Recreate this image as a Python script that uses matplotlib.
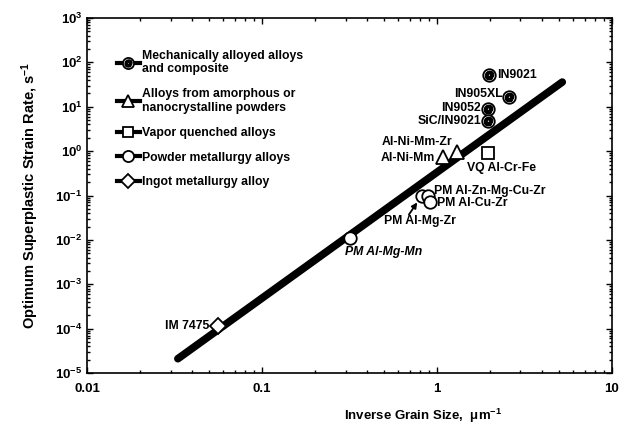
import numpy as np
import matplotlib as mpl
import matplotlib.pyplot as plt
from matplotlib.lines import Line2D
from matplotlib.legend_handler import HandlerTuple

mpl.rcParams['font.family'] = ['Liberation Sans', 'DejaVu Sans']
mpl.rcParams['font.weight'] = 'bold'
mpl.rcParams['mathtext.default'] = 'regular'

# fitted trend line (two end points)
line_x = [0.033, 5.2]
line_y = [2.1e-5, 36]

# mechanically alloyed alloys and composite
ma_names = ['IN9021', 'IN905XL', 'IN9052', 'SiC/IN9021']
ma_x = [1.98, 2.58, 1.96, 1.96]
ma_y = [52, 17, 8.8, 4.7]

# alloys from amorphous / nanocrystalline powders
am_names = ['Al-Ni-Mm', 'Al-Ni-Mm-Zr']
am_x = [1.08, 1.30]
am_y = [0.74, 0.95]

# vapor quenched
vq_names = ['VQ Al-Cr-Fe']
vq_x = [1.96]
vq_y = [0.92]

# powder metallurgy
pm_names = ['PM Al-Mg-Zr', 'PM Al-Zn-Mg-Cu-Zr', 'PM Al-Cu-Zr', 'PM Al-Mg-Mn']
pm_x = [0.82, 0.89, 0.91, 0.32]
pm_y = [0.10, 0.10, 0.071, 0.011]

# ingot metallurgy
im_names = ['IM 7475']
im_x = [0.056]
im_y = [1.15e-4]

legend_labels = ['Mechanically alloyed alloys\nand composite',
                 'Alloys from amorphous or\nnanocrystalline powders',
                 'Vapor quenched alloys',
                 'Powder metallurgy alloys',
                 'Ingot metallurgy alloy']

fig = plt.figure(figsize=(6.27, 4.29), dpi=100)
ax = fig.add_axes([0.139, 0.1305, 0.837, 0.8275])

ax.plot(line_x, line_y, color='black', lw=5.5, solid_capstyle='round', zorder=2)

mk = dict(linestyle='none', mfc='white', mec='black', mew=1.3, zorder=3)
ax.plot(ma_x, ma_y, marker='o', ms=9, **mk)
ax.plot(ma_x, ma_y, marker='$@$', ms=6, linestyle='none', color='black', zorder=4)
ax.plot(am_x, am_y, marker='^', ms=10, **mk)
ax.plot(vq_x, vq_y, marker='s', ms=8, **mk)
ax.plot(pm_x, pm_y, marker='o', ms=9, **mk)
ax.plot(im_x, im_y, marker='D', ms=8, **mk)

fs = 8.8
txt = dict(textcoords='offset pixels', fontsize=fs, va='center', fontweight='bold')
# (offset x, offset y, ha)
ma_off = [(8, 0, 'left'), (-6, 3, 'right'), (-7, 1, 'right'), (-7, 0, 'right')]
for n, x, y, o in zip(ma_names, ma_x, ma_y, ma_off):
    ax.annotate(n, (x, y), xytext=(o[0], o[1]), ha=o[2], **txt)
am_off = [(-8, -1, 'right'), (-5, 10, 'right')]
for n, x, y, o in zip(am_names, am_x, am_y, am_off):
    ax.annotate(n, (x, y), xytext=(o[0], o[1]), ha=o[2], **txt)
ax.annotate(vq_names[0], (vq_x[0], vq_y[0]), xytext=(-21, -15), ha='left', **txt)
ax.annotate(pm_names[0], (pm_x[0], pm_y[0]), xytext=(-38, -25), ha='left', **txt)
ax.annotate('', (pm_x[0], pm_y[0]), xytext=(-13, -19), textcoords='offset pixels',
            arrowprops=dict(arrowstyle='-|>', color='black', lw=1.3,
                            shrinkA=0, shrinkB=6, mutation_scale=8))
ax.annotate(pm_names[1], (pm_x[1], pm_y[1]), xytext=(6, 5), ha='left', **txt)
ax.annotate(pm_names[2], (pm_x[2], pm_y[2]), xytext=(7, -1), ha='left', **txt)
ax.annotate(pm_names[3], (pm_x[3], pm_y[3]), xytext=(-5, -14), ha='left',
            style='italic', **txt)
ax.annotate(im_names[0], (im_x[0], im_y[0]), xytext=(-9, 0), ha='right', **txt)

ax.set_xscale('log')
ax.set_yscale('log')
ax.set_xlim(0.01, 10)
ax.set_ylim(1e-5, 1e3)
ax.set_xticks([0.01, 0.1, 1, 10])
ax.set_xticklabels(['0.01', '0.1', '1', '10'])
ax.set_yticks([10.0 ** k for k in range(-5, 4)])
ax.set_yticklabels(['$10^{%d}$' % k for k in range(-5, 4)])
ax.tick_params(which='both', direction='in', top=True, right=True,
               labelsize=9.5, width=1)
ax.tick_params(axis='x', pad=7)
ax.tick_params(which='major', length=4)
ax.tick_params(which='minor', length=2)
for s in ax.spines.values():
    s.set_linewidth(1.2)

ax.set_xlabel('Inverse Grain Size,  $\\mu$m$^{-1}$', fontsize=9.5, fontweight='bold')
ax.xaxis.set_label_coords(0.64, -0.095)
ax.set_ylabel('Optimum Superplastic Strain Rate, s$^{-1}$', fontsize=10.5,
              fontweight='bold')
ax.yaxis.set_label_coords(-0.088, 0.5)

# legend
hk = dict(color='black', lw=3, mfc='white', mec='black', mew=1.3)
h_ma = (Line2D([], [], marker='o', ms=8, **hk),
        Line2D([], [], marker='$@$', ms=5, linestyle='none', color='black'))
h_am = Line2D([], [], marker='^', ms=8, **hk)
h_vq = Line2D([], [], marker='s', ms=7, **hk)
h_pm = Line2D([], [], marker='o', ms=8, **hk)
h_im = Line2D([], [], marker='D', ms=7, **hk)
ax.legend([h_ma, h_am, h_vq, h_pm, h_im], legend_labels,
          handler_map={tuple: HandlerTuple(ndivide=1)},
          loc='upper left', bbox_to_anchor=(0.047, 0.925), frameon=False,
          fontsize=8.8, handlelength=1.9, handletextpad=0.15,
          labelspacing=1.05, borderaxespad=0)

fig.savefig('out.png', dpi=100)
